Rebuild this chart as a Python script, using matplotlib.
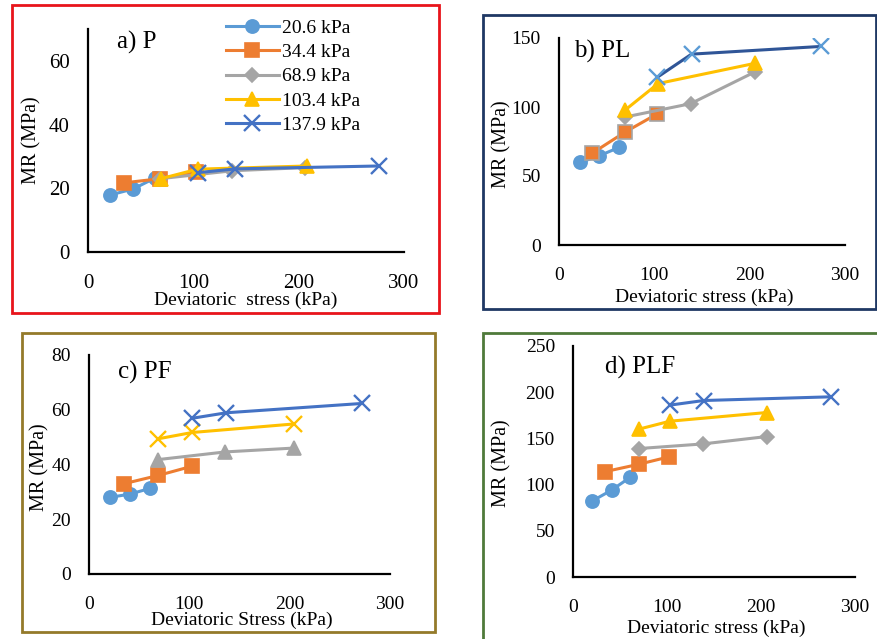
import matplotlib
matplotlib.use("Agg")
import matplotlib.pyplot as plt
from matplotlib.patches import Rectangle

plt.rcParams['font.family'] = ['Liberation Serif', 'DejaVu Serif']

W, H = 878, 639

labels = ['20.6 kPa', '34.4 kPa', '68.9 kPa', '103.4 kPa', '137.9 kPa']

# a) P
a_x = [[21, 43, 64], [34, 68, 103], [68, 137, 206], [69, 104, 208], [104, 140, 276]]
a_y = [[17.9, 19.8, 23.3], [21.7, 23.0, 25.0], [23.0, 25.5, 26.5], [23.0, 26.0, 27.0], [24.9, 26.1, 27.0]]

# b) PL
b_x = [[22, 42, 63], [35, 69, 103], [69, 138, 206], [69, 104, 206], [103, 139, 275]]
b_y = [[59.8, 64.6, 70.7], [66.6, 81.7, 95.0], [92.7, 102.4, 125.6], [97.6, 117.0, 131.7], [121.5, 138.3, 143.9]]

# c) PF
c_x = [[21, 41, 61], [35, 69, 103], [69, 136, 204], [69, 103, 204], [103, 137, 272]]
c_y = [[28.0, 29.2, 31.3], [33.0, 36.0, 39.4], [41.8, 44.6, 46.0], [49.4, 51.7, 54.8], [56.9, 58.9, 62.3]]

# d) PLF
d_x = [[20, 41, 61], [34, 70, 102], [70, 138, 206], [70, 103, 206], [103, 139, 274]]
d_y = [[82, 94, 108], [114, 122, 130], [139, 144, 152], [160, 168.6, 178], [186, 191, 195]]

colors = ['#5B9BD5', '#ED7D31', '#A5A5A5', '#FFC000', '#4472C4']

fig = plt.figure(figsize=(W / 100, H / 100), dpi=100)


def box(l, t, r, b):
    return [l / W, 1 - b / H, (r - l) / W, (b - t) / H]


def frame(l, t, r, b, color):
    fig.patches.append(Rectangle((l / W, 1 - b / H), (r - l) / W, (b - t) / H,
                                 transform=fig.transFigure, fill=False,
                                 edgecolor=color, linewidth=2, zorder=0))


def make_panel(pos, xs, ys, markers, ymax, ystep, title, tpos, xlab, xlpos, ylpos,
               fs=14, mcolors=None, lcolors=None, medges=None):
    ax = fig.add_axes(box(*pos))
    for i in range(5):
        lc = lcolors[i] if lcolors else colors[i]
        mc = mcolors[i] if mcolors else colors[i]
        me = medges[i] if medges else mc
        m = markers[i]
        ms = {'x': 11, 'D': 7.5}.get(m, 9.5)
        ax.plot(xs[i], ys[i], color=lc, lw=2.2, marker=m, markersize=ms,
                markerfacecolor=mc, markeredgecolor=me,
                markeredgewidth=1.7 if m == 'x' else 1.2, label=labels[i])
    ax.set_xlim(0, 300)
    ax.set_ylim(0, ymax)
    ax.set_xticks([0, 100, 200, 300])
    ax.set_yticks(range(0, int(ymax) + 1, ystep))
    for s in ['top', 'right']:
        ax.spines[s].set_visible(False)
    for s in ['left', 'bottom']:
        ax.spines[s].set_linewidth(1.6)
    ax.tick_params(length=0, labelsize=fs)
    ax.tick_params(axis='x', pad=16)
    ax.tick_params(axis='y', pad=13)
    ax.set_facecolor('none')
    fig.text(tpos[0] / W, 1 - tpos[1] / H, title, fontsize=18, va='center', ha='left')
    fig.text(xlpos[0] / W, 1 - xlpos[1] / H, xlab, fontsize=14, va='center', ha='center')
    fig.text(ylpos[0] / W, 1 - ylpos[1] / H, 'MR (MPa)', fontsize=14.5, va='center',
             ha='center', rotation=90)
    return ax


frame(12, 5, 439, 313, '#E8141B')
frame(483, 15, 876, 309, '#1F3864')
frame(22, 333, 435, 632, '#947A2A')
frame(483, 333, 892, 650, '#4F7A3A')

mk = ['o', 's', 'D', '^', 'x']

ax_a = make_panel((88, 29, 404, 252), a_x, a_y, mk, 70, 20, 'a) P', (117, 42),
                  'Deviatoric  stress (kPa)', (246, 300), (32, 140), fs=15)
ax_a.legend(loc='upper left', bbox_to_anchor=(226 / W, 1 - 19 / H),
            bbox_transform=fig.transFigure, frameon=False, fontsize=14,
            handlelength=2.7, handletextpad=0.2, labelspacing=0.35,
            borderpad=0, borderaxespad=0)

make_panel((559, 38, 845, 245), b_x, b_y, mk, 150, 50, 'b) PL', (574, 51),
           'Deviatoric stress (kPa)', (704, 297), (502, 144),
           mcolors=['#5B9BD5', '#ED7D31', '#A5A5A5', '#FFC000', '#5B9BD5'],
           lcolors=['#5B9BD5', '#ED7D31', '#A5A5A5', '#FFC000', '#2F5597'],
           medges=['#5B9BD5', '#A5A5A5', '#A5A5A5', '#FFC000', '#5B9BD5'])

make_panel((89, 355, 390, 574), c_x, c_y, ['o', 's', '^', 'x', 'x'], 80, 20, 'c) PF',
           (118, 372), 'Deviatoric Stress (kPa)', (242, 620), (40, 467))

make_panel((573, 346, 855, 577), d_x, d_y, mk, 250, 50, 'd) PLF', (605, 367),
           'Deviatoric stress (kPa)', (716, 628), (502, 463))

fig.savefig('out.png', dpi=100)
